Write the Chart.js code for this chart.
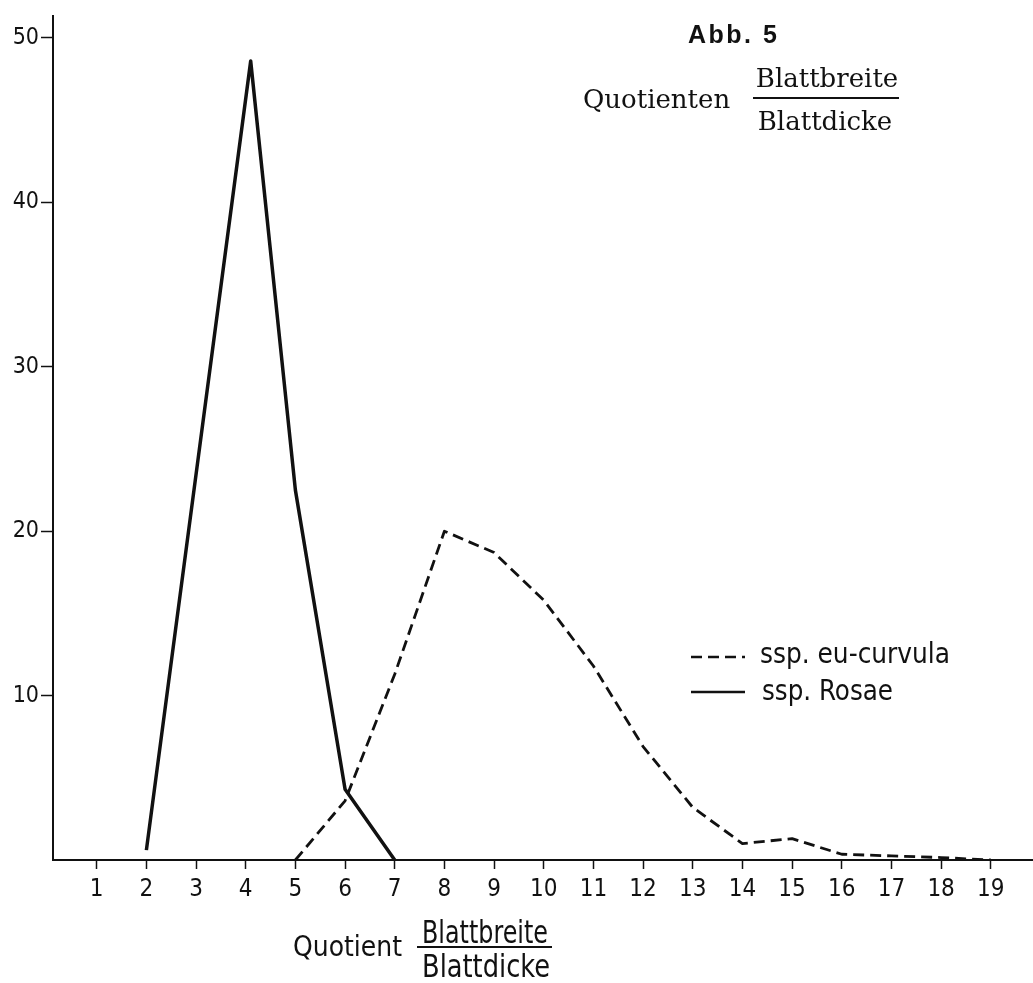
<!DOCTYPE html>
<html>
<head>
<meta charset="utf-8">
<script src="https://cdn.jsdelivr.net/npm/chart.js@4.4.1/dist/chart.umd.min.js"></script>
<style>
  html, body { margin: 0; padding: 0; background: #fff; }
  #wrap { position: relative; width: 1033px; height: 983px; }
</style>
</head>
<body>
<div id="wrap"><canvas id="quotChart"></canvas></div>
<script>
// Quotient Blattbreite / Blattdicke (x) und Anzahl (y)
const quotienten = [1, 2, 3, 4, 5, 6, 7, 8, 9, 10, 11, 12, 13, 14, 15, 16, 17, 18, 19];
const yTicks = [10, 20, 30, 40, 50];

const euCurvulaX = [5, 6, 7, 8, 9, 10, 11, 12, 13, 14, 15, 16, 17, 18, 19];
const euCurvulaY = [0, 3.6, 11.3, 20, 18.7, 15.8, 11.8, 6.9, 3.2, 1.0, 1.3, 0.35, 0.25, 0.15, 0];

const rosaeX = [2, 4.1, 5, 6, 7];
const rosaeY = [0.6, 48.6, 22.5, 4.3, 0];

const ink = '#111';
const handFont = '"DejaVu Sans Condensed", "Liberation Sans Narrow", "DejaVu Sans", sans-serif';
const serifFont = '"DejaVu Serif", "Liberation Serif", serif';

const toPoints = (xs, ys) => xs.map((x, i) => ({ x: x, y: ys[i] }));

// schmale, hohe Handschrift: Text horizontal auf Breite stauchen
function drawFit(ctx, text, x, y, width, font) {
  ctx.save();
  ctx.font = font;
  ctx.textAlign = 'left';
  const w = ctx.measureText(text).width;
  ctx.translate(x, y);
  ctx.scale(width / w, 1);
  ctx.fillText(text, 0, 0);
  ctx.restore();
}

// Texte: Abb., Quotienten-Bruch, Legende, Achsentitel
const textPlugin = {
  id: 'abbTexts',
  afterDraw(chart) {
    const ctx = chart.ctx;
    ctx.save();
    ctx.fillStyle = ink;
    ctx.strokeStyle = ink;
    ctx.textBaseline = 'alphabetic';

    ctx.font = 'bold 25px "Liberation Sans", Arial, sans-serif';
    ctx.letterSpacing = '2.5px';
    ctx.textAlign = 'left';
    ctx.fillText('Abb. 5', 688, 43);
    ctx.letterSpacing = '0px';

    ctx.font = '26px ' + serifFont;
    ctx.fillText('Quotienten', 583, 108);
    ctx.textAlign = 'center';
    ctx.fillText('Blattbreite', 827, 87);
    ctx.fillText('Blattdicke', 825, 130);
    ctx.lineWidth = 2;
    ctx.beginPath();
    ctx.moveTo(753, 98);
    ctx.lineTo(899, 98);
    ctx.stroke();

    // Legende
    const rows = [{ line: 657, base: 663, x: 760, w: 190 }, { line: 692, base: 700, x: 762, w: 131 }];
    chart.data.datasets.forEach((ds, i) => {
      const r = rows[i];
      ctx.save();
      ctx.lineWidth = 2.5;
      ctx.setLineDash(ds.borderDash || []);
      ctx.beginPath();
      ctx.moveTo(691, r.line);
      ctx.lineTo(745, r.line);
      ctx.stroke();
      ctx.restore();
      drawFit(ctx, ds.label, r.x, r.base, r.w, '28px ' + handFont);
    });

    // x-Achsentitel
    drawFit(ctx, 'Quotient', 293, 956, 109, '29px ' + handFont);
    drawFit(ctx, 'Blattbreite', 422, 943, 126, '32px ' + handFont);
    drawFit(ctx, 'Blattdicke', 422, 977, 128, '32px ' + handFont);
    ctx.lineWidth = 2;
    ctx.beginPath();
    ctx.moveTo(417, 947);
    ctx.lineTo(552, 947);
    ctx.stroke();
    ctx.restore();
  }
};

const ctx = document.getElementById('quotChart').getContext('2d');
const chart = new Chart(ctx, {
  type: 'line',
  data: {
    datasets: [
      {
        label: 'ssp. eu-curvula',
        data: toPoints(euCurvulaX, euCurvulaY),
        borderColor: ink,
        borderWidth: 2.8,
        borderDash: [11, 6],
        borderJoinStyle: 'round',
        pointRadius: 0,
        tension: 0,
        fill: false,
      },
      {
        label: 'ssp. Rosae',
        data: toPoints(rosaeX, rosaeY),
        borderColor: ink,
        borderWidth: 3.5,
        borderJoinStyle: 'round',
        pointRadius: 0,
        tension: 0,
        fill: false,
      },
    ],
  },
  options: {
    responsive: true,
    maintainAspectRatio: false,
    animation: false,
    layout: { padding: { top: 12, right: 0, bottom: 0, left: 0 } },
    plugins: {
      legend: { display: false },
      tooltip: { enabled: false },
    },
    scales: {
      x: {
        type: 'linear',
        min: 0.12,
        max: 19.85,
        afterBuildTicks: s => { s.ticks = quotienten.map(v => ({ value: v })); },
        afterFit: s => { s.height = 123; },
        grid: { drawOnChartArea: false, drawTicks: true, tickLength: 9, tickColor: ink, tickWidth: 1.5 },
        border: { display: true, color: ink, width: 2 },
        ticks: {
          color: ink,
          autoSkip: false,
          maxRotation: 0,
          padding: 6,
          font: { family: handFont, size: 24 },
        },
      },
      y: {
        min: 0,
        max: 51.35,
        afterBuildTicks: s => { s.ticks = yTicks.map(v => ({ value: v })); },
        afterFit: s => { s.width = 53; },
        grid: { drawOnChartArea: false, drawTicks: true, tickLength: 12, tickColor: ink, tickWidth: 1.5 },
        border: { display: true, color: ink, width: 2 },
        ticks: {
          color: ink,
          padding: 2,
          font: { family: handFont, size: 23 },
        },
      },
    },
  },
  plugins: [textPlugin],
});
</script>
</body>
</html>
